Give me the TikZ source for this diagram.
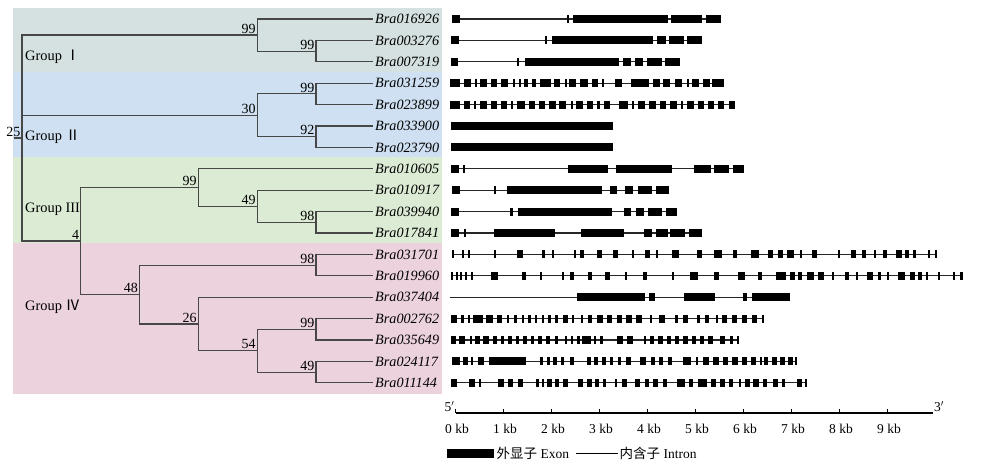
\documentclass[tikz,border=0pt]{standalone}
\usepackage{fontspec}
\setmainfont{Liberation Serif}
\newfontfamily\cjk{Noto Sans CJK SC}

\definecolor{grpone}{RGB}{212,225,224}
\definecolor{grptwo}{RGB}{206,224,241}
\definecolor{grpthree}{RGB}{219,235,212}
\definecolor{grpfour}{RGB}{236,210,221}

\begin{document}
\begin{tikzpicture}[x=1pt, y=-1pt,
  branch/.style={draw=black!72, line width=1.1pt},
  boot/.style={anchor=south east, inner sep=1.5pt, font=\fontsize{14}{16}\selectfont},
  genelab/.style={anchor=west, inner sep=2pt, font=\fontsize{14.2}{16}\selectfont\itshape},
  grouplab/.style={anchor=west, inner sep=0pt, font=\fontsize{14.4}{16}\selectfont},
  intron/.style={draw=black!85, line width=1.2pt},
  kblab/.style={font=\fontsize{13.5}{15}\selectfont}]
  \useasboundingbox (0,0) rectangle (1000,470);

  % Define the row spacing of the tree
  \def\rowy#1{19+21.4*#1}

  % Coloured group bands
  \fill[grpone]   (13,8)   rectangle (442,72);
  \fill[grptwo]   (13,72)  rectangle (442,157);
  \fill[grpthree] (13,157) rectangle (442,243);
  \fill[grpfour]  (13,243) rectangle (442,394);

  \node[grouplab] (gI)   at (25,57)  {Group {\cjk Ⅰ}};
  \node[grouplab] (gII)  at (25,137) {Group {\cjk Ⅱ}};
  \node[grouplab] (gIII) at (25,209) {Group III};
  \node[grouplab] (gIV)  at (25,307) {Group {\cjk Ⅳ}};

  % Leaves of the tree
  \foreach \name [count=\i from 0] in {Bra016926, Bra003276, Bra007319, Bra031259,
      Bra023899, Bra033900, Bra023790, Bra010605, Bra010917, Bra039940, Bra017841,
      Bra031701, Bra019960, Bra037404, Bra002762, Bra035649, Bra024117, Bra011144} {
    \coordinate (L\i) at (373,{\rowy{\i}});
    \node[genelab] (t\i) at (L\i) {\name};
  }

  % Inner nodes: name / depth / row
  \foreach \n/\l/\r in {root/0/5.5625, nA/4/0.75, nA1/5/1.5, nB/4/4.5, nB1/5/3.5,
      nB2/5/5.5, nC/1/10.375, nC1/3/7.875, nC2/4/8.75, nC3/5/9.5, nD/2/12.875,
      nD1/5/11.5, nD2/3/14.25, nD3/4/15.5, nD4/5/14.5, nD5/5/16.5} {
    \coordinate (\n) at ({22+58.8*\l},{\rowy{\r}});
  }
  \coordinate (rootin) at (13.5,{\rowy{5.5625}});

  % Draw the branches
  \draw[branch] (rootin) -- (root);
  \foreach \p/\c in {root/nA, root/nB, root/nC, nA/L0, nA/nA1, nA1/L1, nA1/L2,
      nB/nB1, nB/nB2, nB1/L3, nB1/L4, nB2/L5, nB2/L6, nC/nC1, nC/nD, nC1/L7,
      nC1/nC2, nC2/L8, nC2/nC3, nC3/L9, nC3/L10, nD/nD1, nD/nD2, nD1/L11, nD1/L12,
      nD2/L13, nD2/nD3, nD3/nD4, nD3/nD5, nD4/L14, nD4/L15, nD5/L16, nD5/L17} {
    \draw[branch] (\p) |- (\c);
  }

  % Bootstrap values
  \foreach \n/\v in {root/25, nA/99, nA1/99, nB/30, nB1/99, nB2/92, nC/4, nC1/99,
      nC2/49, nC3/98, nD/48, nD1/98, nD2/26, nD3/54, nD4/99, nD5/49} {
    \node[boot] (b\n) at (\n) {\v};
  }

  % Gene structures: row / start / end / exons
  \foreach \r/\s/\e/\ex in {
    0/452/721/{452/460, 567/569, 573/668, 671/702, 706/721},
    1/451/702/{451/459, 545/547, 552/653, 657/666, 669/684, 687/702},
    2/451/680/{451/458, 517/519, 525/619, 623/631, 635/643, 647/662, 665/680},
    3/450/724/{450/460, 464/471, 475/477, 480/487, 491/497, 501/508, 513/515,
      519/521, 524/528, 532/536, 540/551, 554/560, 565/567, 569/576, 580/588,
      592/598, 602/604, 615/622, 631/649, 653/660, 663/670, 675/682, 687/689,
      692/699, 703/710, 712/724},
    4/450/735/{450/460, 464/470, 474/476, 480/487, 491/497, 501/507, 511/513,
      517/525, 529/535, 539/545, 549/556, 559/566, 571/573, 576/583, 587/593,
      597/600, 604/610, 619/628, 632/634, 638/645, 649/656, 660/666, 670/677,
      681/683, 687/694, 698/704, 708/714, 718/724, 729/735},
    5/451/613/{451/613},
    6/451/613/{451/613},
    7/451/744/{451/459, 463/465, 568/608, 616/672, 694/711, 714/729, 733/744},
    8/452/669/{452/460, 494/496, 507/602, 610/617, 625/633, 638/652, 656/669},
    9/451/677/{451/459, 510/513, 518/612, 624/631, 636/644, 648/662, 666/677},
    10/451/702/{451/459, 464/466, 494/555, 581/624, 644/652, 656/668, 670/685,
      689/702},
    11/452/937/{452/454, 462/464, 468/470, 494/496, 517/523, 542/545, 552/554,
      574/576, 580/584, 597/602, 613/618, 632/634, 645/650, 656/658, 672/679,
      697/702, 714/722, 733/737, 751/759, 768/773, 778/783, 787/794, 800/802,
      812/817, 838/840, 851/856, 862/866, 874/876, 883/887, 896/902, 905/909,
      913/916, 928/930, 935/937},
    12/451/963/{451/453, 456/458, 460/462, 465/467, 471/473, 491/498, 522/526,
      540/542, 562/564, 570/574, 588/592, 605/610, 625/627, 643/647, 672/674,
      690/698, 714/719, 738/745, 758/762, 776/786, 790/795, 798/802, 807/814,
      818/824, 832/834, 845/849, 856/858, 867/873, 878/881, 887/889, 898/905,
      910/915, 918/922, 926/928, 938/940, 953/955, 960/963},
    13/450/790/{577/645, 649/655, 684/715, 743/747, 752/790},
    14/451/764/{451/457, 461/464, 468/470, 473/483, 486/493, 497/502, 507/509,
      514/517, 522/524, 528/531, 535/537, 542/544, 548/551, 555/558, 563/568,
      572/574, 581/583, 588/592, 597/603, 607/612, 617/622, 626/632, 636/642,
      650/652, 659/665, 675/678, 683/688, 697/700, 705/709, 716/718, 722/727,
      732/737, 742/747, 752/757, 762/764},
    15/451/739/{451/456, 459/465, 470/472, 475/480, 483/489, 493/497, 501/504,
      508/512, 516/519, 523/527, 531/534, 538/542, 546/550, 555/558, 565/567,
      571/573, 577/580, 582/591, 594/596, 600/603, 617/623, 627/633, 644/646,
      650/654, 658/663, 667/671, 675/679, 683/688, 692/696, 700/704, 708/713,
      720/725, 730/733, 737/739},
    16/452/797/{452/460, 463/468, 471/473, 478/484, 489/526, 540/543, 547/550,
      553/557, 561/564, 570/574, 587/591, 594/598, 602/606, 610/613, 618/621,
      626/631, 640/646, 651/655, 659/663, 668/672, 683/691, 696/698, 703/709,
      713/719, 723/728, 732/738, 742/747, 751/756, 760/762, 764/768, 772/777,
      780/785, 788/793, 795/797},
    17/451/807/{451/457, 469/475, 479/481, 498/504, 508/513, 518/523, 536/539,
      542/544, 547/552, 555/559, 563/568, 578/583, 587/592, 595/599, 603/606,
      615/617, 622/627, 635/640, 645/649, 653/658, 663/667, 677/685, 689/693,
      698/707, 711/716, 720/725, 729/733, 739/741, 745/750, 753/759, 763/767,
      773/778, 782/785, 797/802, 805/807}} {
    \draw[intron] (\s,{\rowy{\r}}) -- (\e,{\rowy{\r}});
    \foreach \a/\b in \ex
      \fill (\a,{\rowy{\r}-4}) rectangle (\b,{\rowy{\r}+4});
  }

  % Scale bar
  \coordinate (ax0) at (455.7,412.7);
  \coordinate (ax1) at (933,412.7);
  \draw[line width=1.6pt] (ax0) -- (ax1);
  \node[kblab, anchor=south east, inner sep=1pt] (five) at (ax0) {5$'$};
  \node[kblab, anchor=south west, inner sep=1pt] (three) at (ax1) {3$'$};
  \foreach \k in {0,...,9} {
    \draw[line width=1pt] ({455.7+48*\k},412.7) -- ++(0,-4);
    \node[kblab] (kb\k) at ({457+48*\k},428.5) {\k\ kb};
  }

  % Legend
  \fill (447,449) rectangle (494,458);
  \node[kblab, anchor=west, inner sep=1.5pt] (exlab) at (495,453.5) {{\cjk 外显子} Exon};
  \coordinate (inl0) at (576,453.5);
  \coordinate (inl1) at (618,453.5);
  \draw[line width=1pt] (inl0) -- (inl1);
  \node[kblab, anchor=west, inner sep=1.5pt] (inlab) at (inl1) {{\cjk 内含子} Intron};
\end{tikzpicture}
\end{document}
